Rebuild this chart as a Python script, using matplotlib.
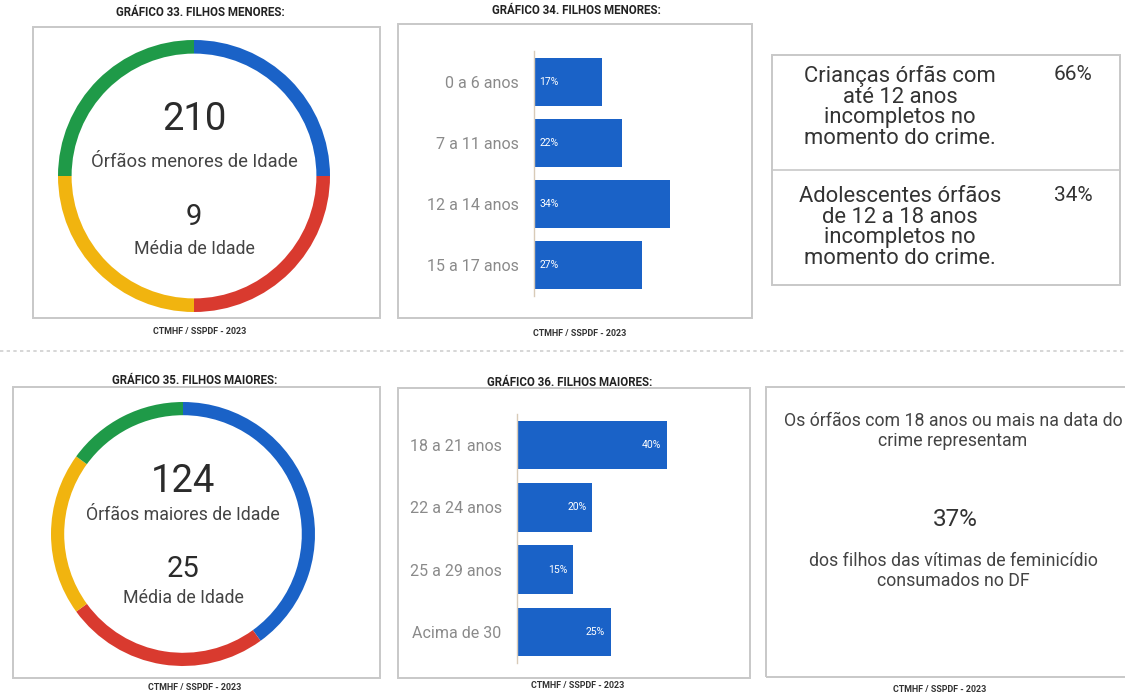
import matplotlib
matplotlib.use("Agg")
import matplotlib.pyplot as plt
from matplotlib.patches import Rectangle
from matplotlib.lines import Line2D

plt.rcParams['font.family'] = ['Roboto', 'DejaVu Sans']

W, H = 1125, 694

# dados
donut_menores = [25, 25, 25, 25]          # azul, vermelho, amarelo, verde
donut_maiores = [40, 25, 20, 15]
cores_donut = ['#1a62c7', '#d93a2f', '#f1b40f', '#1f9a48']

faixas_menores = ['0 a 6 anos', '7 a 11 anos', '12 a 14 anos', '15 a 17 anos']
pct_menores = [17, 22, 34, 27]

faixas_maiores = ['18 a 21 anos', '22 a 24 anos', '25 a 29 anos', 'Acima de 30']
pct_maiores = [40, 20, 15, 25]

tabela_textos = ['Crianças órfãs com\naté 12 anos\nincompletos no\nmomento do crime.',
                 'Adolescentes órfãos\nde 12 a 18 anos\nincompletos no\nmomento do crime.']
tabela_pct = ['66%', '34%']

titulos = ['GRÁFICO 33. FILHOS MENORES:', 'GRÁFICO 34. FILHOS MENORES:',
           'GRÁFICO 35. FILHOS MAIORES:', 'GRÁFICO 36. FILHOS MAIORES:']
fonte = 'CTMHF / SSPDF - 2023'

AZUL = '#1a62c7'
TEXTO = '#2b2b2b'

fig = plt.figure(figsize=(W / 100, H / 100), dpi=100)
fig.patch.set_facecolor('white')


def eixo(x0, y0, x1, y1):
    return fig.add_axes([x0 / W, 1 - y1 / H, (x1 - x0) / W, (y1 - y0) / H])


def texto(x, y, s, **kw):
    kw.setdefault('ha', 'center')
    kw.setdefault('va', 'center')
    kw.setdefault('color', TEXTO)
    fig.text(x / W, 1 - y / H, s, **kw)


def caixa(x0, y0, x1, y1):
    r = Rectangle((x0 / W, 1 - y1 / H), (x1 - x0) / W, (y1 - y0) / H,
                  transform=fig.transFigure, fill=False,
                  edgecolor='#c8c8c8', linewidth=1.4)
    fig.add_artist(r)


def linha(x0, y0, x1, y1, **kw):
    fig.add_artist(Line2D([x0 / W, x1 / W], [1 - y0 / H, 1 - y1 / H],
                          transform=fig.transFigure, **kw))


def donut(cx, cy, r, valores):
    ax = eixo(cx - r, cy - r, cx + r, cy + r)
    ax.pie(valores, colors=cores_donut, startangle=90, counterclock=False,
           radius=1, wedgeprops=dict(width=0.1, linewidth=0))
    ax.set_xlim(-1, 1)
    ax.set_ylim(-1, 1)
    ax.set_aspect('auto')
    ax.axis('off')


def barras(x_eixo, y0, y1, px_por_pct, faixas, valores, dentro_fim):
    largura = 50 * px_por_pct
    ax = eixo(x_eixo, y0, x_eixo + largura, y1)
    pos = list(range(len(faixas)))
    ax.barh(pos, valores, height=0.78, color=AZUL)
    ax.set_xlim(0, 50)
    ax.set_ylim(len(faixas) - 0.5, -0.5)
    ax.set_yticks(pos)
    ax.set_yticklabels(faixas, color='#8a8a8a', fontsize=11.5)
    ax.tick_params(axis='y', length=0, pad=11)
    ax.set_xticks([])
    for s in ['top', 'right', 'bottom']:
        ax.spines[s].set_visible(False)
    ax.spines['left'].set_color('#d8cbb8')
    ax.spines['left'].set_linewidth(1)
    for p, v in zip(pos, valores):
        if dentro_fim:
            ax.text(v - 1.5, p, f'{v}%', color='white', fontsize=7.5,
                    ha='right', va='center')
        else:
            ax.text(1.3, p, f'{v}%', color='white', fontsize=7.5,
                    ha='left', va='center')
    return ax


def titulo(x, y, s):
    texto(x, y, s, fontsize=8.3, fontweight='bold', color='#222222')


def rodape(x, y):
    texto(x, y, fonte, fontsize=6.4, fontweight='bold', color='#333333')


# ---------------- linha de cima ----------------
caixa(33, 27, 380, 318)
titulo(200, 13, titulos[0])
rodape(200, 331)
donut(194, 176, 136, donut_menores)
texto(194, 120, '210', fontsize=27.5)
texto(194, 162, 'Órfãos menores de Idade', fontsize=13.2, color='#444444')
texto(194, 217, '9', fontsize=21)
texto(194, 249, 'Média de Idade', fontsize=12.8, color='#444444')

caixa(398, 24, 752, 318)
titulo(576, 10, titulos[1])
rodape(580, 333)
barras(534, 51, 296, 4.0, faixas_menores, pct_menores, dentro_fim=False)

caixa(772, 55, 1120, 285)
linha(772, 170, 1120, 170, color='#c8c8c8', linewidth=1.2)
for i, (t, p) in enumerate(zip(tabela_textos, tabela_pct)):
    y_top = 65 + i * 121
    texto(900, y_top, t, va='top', fontsize=15.8, linespacing=0.97,
          multialignment='center', color='#333333')
    texto(1073, y_top, p, va='top', fontsize=15, color='#333333')

# separador
linha(0, 351, 1125, 351, color='#cfcfcf', linewidth=1.2, linestyle=(0, (2, 2)))

# ---------------- linha de baixo ----------------
caixa(13, 387, 380, 678)
titulo(195, 381, titulos[2])
rodape(195, 688)
donut(183, 534, 132, donut_maiores)
texto(183, 482, '124', fontsize=27.5)
texto(183, 515, 'Órfãos maiores de Idade', fontsize=12.8, color='#444444')
texto(183, 569, '25', fontsize=21)
texto(183, 598, 'Média de Idade', fontsize=12.8, color='#444444')

caixa(398, 388, 750, 678)
titulo(570, 382, titulos[3])
rodape(578, 685)
barras(517, 414, 663, 3.75, faixas_maiores, pct_maiores, dentro_fim=True)

caixa(766, 387, 1130, 677)
texto(953, 412, 'Os órfãos com 18 anos ou mais na data do\ncrime representam',
      va='top', fontsize=12.8, linespacing=1.15, multialignment='center',
      color='#444444')
texto(955, 520, '37%', fontsize=17.5, color='#333333')
texto(953, 552, 'dos filhos das vítimas de feminicídio\nconsumados no DF',
      va='top', fontsize=12.8, linespacing=1.15, multialignment='center',
      color='#444444')
rodape(940, 690)

fig.savefig('out.png', dpi=100, facecolor='white')
